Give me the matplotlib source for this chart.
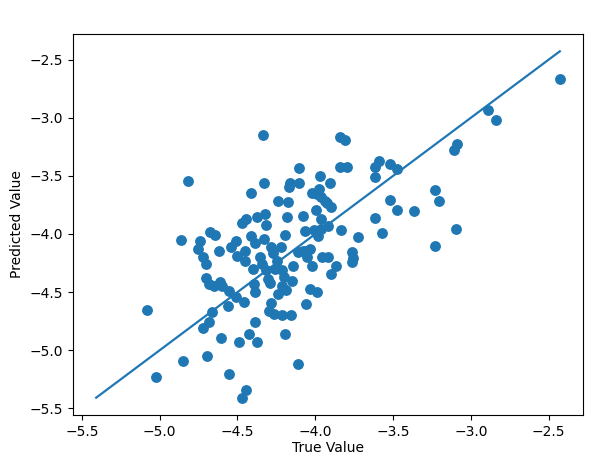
import matplotlib
matplotlib.use("Agg")
import matplotlib.pyplot as plt
import numpy as np

true_vals = [
    -5.083, -5.024, -4.848, -4.862, -4.820, -4.699, -4.720, -4.681, -4.665, -4.704,
    -4.685, -4.754, -4.738, -4.722, -4.701, -4.678, -4.644, -4.621, -4.649, -4.614,
    -4.598, -4.603, -4.557, -4.564, -4.543, -4.509, -4.505, -4.511, -4.493, -4.557,
    -4.470, -4.447, -4.461, -4.473, -4.443, -4.453, -4.449, -4.426, -4.374, -4.390,
    -4.411, -4.411, -4.390, -4.373, -4.402, -4.391, -4.387, -4.356, -4.341, -4.335,
    -4.329, -4.325, -4.320, -4.329, -4.317, -4.303, -4.294, -4.299, -4.287, -4.264,
    -4.287, -4.269, -4.248, -4.262, -4.241, -4.223, -4.237, -4.215, -4.211, -4.202,
    -4.191, -4.211, -4.195, -4.198, -4.182, -4.176, -4.169, -4.164, -4.157, -4.148,
    -4.141, -4.113, -4.107, -4.107, -4.109, -4.081, -4.077, -4.065, -4.062, -4.053,
    -4.058, -4.037, -4.024, -4.031, -4.020, -4.008, -3.995, -3.990, -3.986, -3.981,
    -3.970, -3.976, -3.962, -3.962, -3.966, -3.955, -3.939, -3.928, -3.916, -3.916,
    -3.905, -3.898, -3.898, -3.864, -3.844, -3.811, -3.844, -3.797, -3.832, -3.763,
    -3.761, -3.763, -3.727, -3.614, -3.619, -3.593, -3.614, -3.573, -3.521, -3.473,
    -3.521, -3.477, -3.363, -3.228, -3.205, -3.228, -3.093, -3.109, -3.090, -2.889,
    -2.836, -2.429,
]
pred_vals = [
    -4.655, -5.227, -5.092, -4.052, -3.543, -5.046, -4.805, -4.759, -4.667, -4.376,
    -4.431, -4.126, -4.057, -4.195, -4.261, -3.986, -4.011, -4.144, -4.445, -4.417,
    -4.445, -4.891, -4.489, -4.621, -4.115, -4.057, -4.190, -4.546, -4.928, -5.201,
    -5.408, -5.345, -4.589, -3.902, -3.874, -4.144, -4.230, -4.862, -4.928, -4.761,
    -3.644, -4.014, -4.080, -3.851, -4.302, -4.431, -4.503, -4.201, -4.259, -3.152,
    -3.563, -3.830, -3.925, -4.046, -4.310, -4.388, -4.425, -4.661, -4.592, -4.690,
    -4.115, -4.167, -4.230, -4.302, -3.713, -4.115, -4.517, -4.448, -4.310, -4.368,
    -4.483, -4.695, -4.862, -4.011, -3.856, -3.724, -3.598, -3.563, -4.695, -4.402,
    -4.279, -4.158, -3.563, -3.434, -5.115, -4.144, -3.842, -3.971, -4.144, -4.201,
    -4.603, -4.474, -4.273, -4.129, -3.649, -3.966, -3.793, -3.655, -4.503, -4.014,
    -3.500, -3.612, -3.684, -3.874, -3.957, -4.195, -3.713, -3.736, -4.195, -3.928,
    -3.563, -3.770, -4.345, -4.276, -3.167, -3.195, -3.420, -3.425, -3.966, -4.158,
    -4.207, -4.241, -4.023, -3.512, -3.425, -3.374, -3.865, -3.994, -3.402, -3.445,
    -3.707, -3.793, -3.799, -3.618, -3.716, -4.101, -3.960, -3.276, -3.230, -2.931,
    -3.017, -2.667,
]

color = "#1f77b4"

fig = plt.figure(figsize=(5.98, 4.59), dpi=100)
ax = fig.add_axes([73 / 598, 44 / 459, 510 / 598, 381 / 459])
ax.scatter(true_vals, pred_vals, s=46, color=color, zorder=2)
lo = min(min(true_vals), min(pred_vals))
hi = max(max(true_vals), max(pred_vals))
ax.plot([lo, hi], [lo, hi], color=color, linewidth=1.6, zorder=1)
ax.set_xlabel("True Value", fontsize=10, labelpad=2)
ax.set_ylabel("Predicted Value", fontsize=10)
ax.tick_params(labelsize=10)
fig.savefig("out.png", dpi=100)
